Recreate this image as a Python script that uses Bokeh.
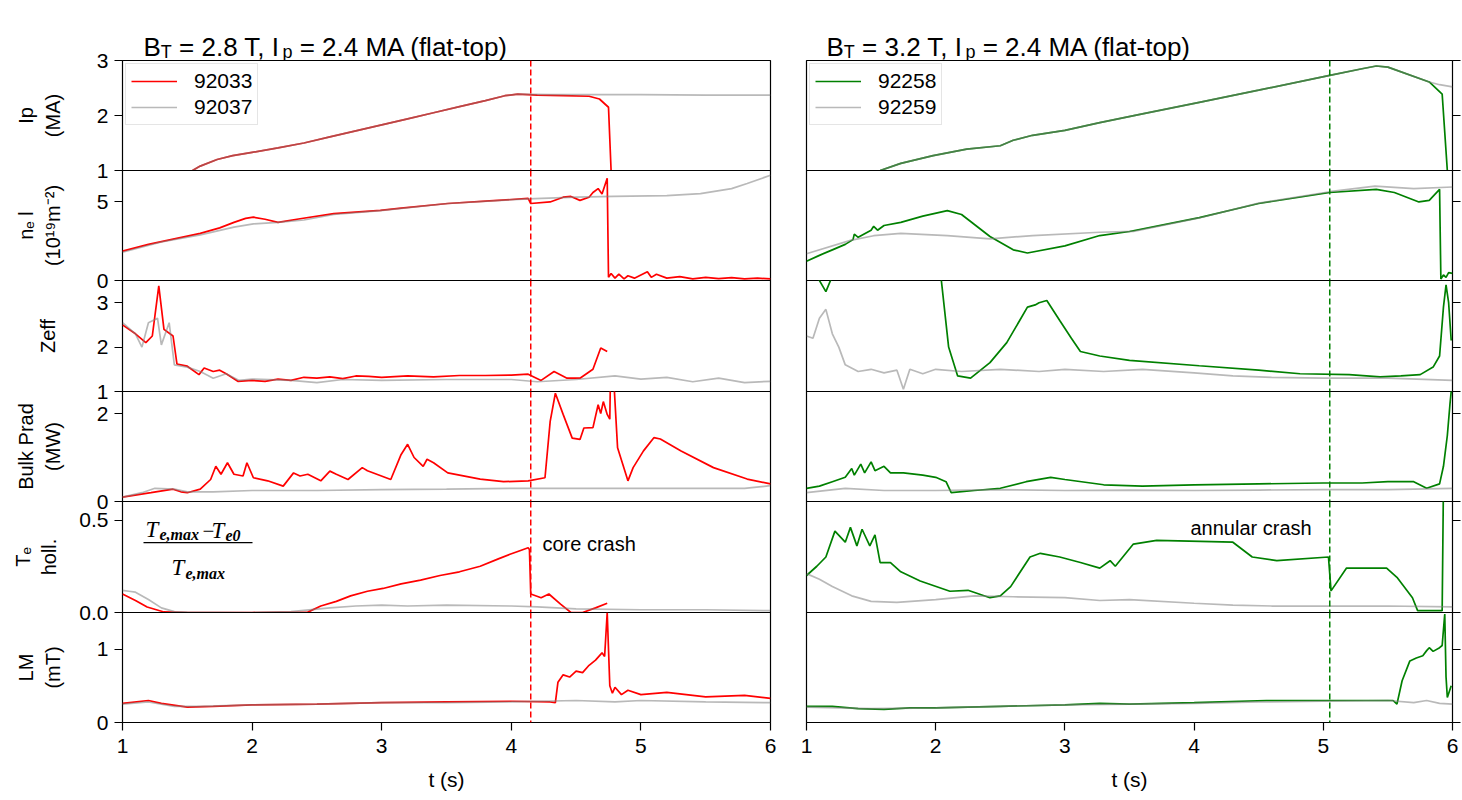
from bokeh.plotting import figure
from bokeh.layouts import column, row
from bokeh.models import Range1d, FixedTicker, Span, Label, BoxAnnotation, Legend, LegendItem
from bokeh.embed import file_html
from bokeh.resources import INLINE

# ---------------- data ----------------
shots_left = ["92033", "92037"]
shots_right = ["92258", "92259"]
crash_t_left = 4.15
crash_t_right = 5.05

# Ip (MA)
t_ip_92033 = [1.54, 1.6, 1.73, 1.85, 2.0, 2.2, 2.4, 2.6, 2.8, 3.0, 3.2, 3.4, 3.6, 3.8, 3.95, 4.05, 4.2, 4.4, 4.6, 4.68, 4.75, 4.77]
ip_92033 = [1.0, 1.08, 1.2, 1.27, 1.33, 1.41, 1.5, 1.61, 1.72, 1.83, 1.94, 2.05, 2.16, 2.27, 2.36, 2.39, 2.37, 2.36, 2.35, 2.3, 2.15, 1.0]
t_ip_92037 = [1.54, 1.6, 1.73, 1.85, 2.0, 2.2, 2.4, 2.6, 2.8, 3.0, 3.2, 3.4, 3.6, 3.8, 3.95, 4.05, 4.3, 4.6, 5.0, 5.5, 6.0]
ip_92037 = [1.0, 1.08, 1.2, 1.27, 1.33, 1.41, 1.5, 1.61, 1.72, 1.83, 1.94, 2.05, 2.16, 2.27, 2.36, 2.39, 2.38, 2.38, 2.38, 2.37, 2.37]
t_ip_92258 = [1.57, 1.73, 1.98, 2.24, 2.5, 2.6, 2.75, 3.0, 3.27, 3.6, 4.04, 4.5, 5.05, 5.3, 5.41, 5.5, 5.82, 5.92, 5.96]
ip_92258 = [1.0, 1.13, 1.27, 1.39, 1.45, 1.55, 1.64, 1.73, 1.87, 2.03, 2.24, 2.46, 2.73, 2.85, 2.9, 2.88, 2.61, 2.39, 1.0]
t_ip_92259 = [1.57, 1.73, 1.98, 2.24, 2.5, 2.6, 2.75, 3.0, 3.27, 3.6, 4.04, 4.5, 5.05, 5.3, 5.41, 5.5, 5.82, 5.9, 6.0]
ip_92259 = [1.0, 1.13, 1.27, 1.39, 1.45, 1.55, 1.64, 1.73, 1.87, 2.03, 2.24, 2.46, 2.73, 2.85, 2.9, 2.88, 2.61, 2.56, 2.52]

# line-integrated density (1e19 m^-2)
t_ne_92033 = [1.0, 1.2, 1.4, 1.6, 1.75, 1.86, 1.95, 2.01, 2.1, 2.2, 2.37, 2.63, 2.99, 3.15, 3.51, 3.8, 4.13, 4.15, 4.3, 4.4, 4.46, 4.53, 4.6, 4.63, 4.67, 4.7, 4.74, 4.75, 4.77, 4.8, 4.83, 4.87, 4.9, 4.95, 5.0, 5.05, 5.08, 5.12, 5.2, 5.3, 5.4, 5.5, 5.6, 5.7, 5.8, 5.9, 6.0]
ne_92033 = [1.87, 2.3, 2.65, 3.0, 3.35, 3.7, 3.95, 4.03, 3.9, 3.7, 3.93, 4.25, 4.46, 4.6, 4.9, 5.05, 5.22, 4.9, 5.0, 5.3, 5.35, 5.1, 5.3, 5.6, 5.85, 5.5, 6.5, 0.2, 0.45, 0.15, 0.4, 0.1, 0.3, 0.15, 0.35, 0.55, 0.2, 0.4, 0.15, 0.25, 0.1, 0.2, 0.12, 0.18, 0.1, 0.15, 0.1]
t_ne_92037 = [1.0, 1.3, 1.6, 1.86, 2.01, 2.2, 2.4, 2.63, 2.99, 3.51, 4.13, 4.5, 4.79, 5.2, 5.46, 5.7, 5.82, 6.0]
ne_92037 = [1.8, 2.45, 2.9, 3.4, 3.6, 3.7, 3.85, 4.2, 4.45, 4.9, 5.2, 5.3, 5.35, 5.4, 5.53, 5.85, 6.17, 6.7]
t_ne_92258 = [1.0, 1.1, 1.2, 1.3, 1.36, 1.37, 1.4, 1.5, 1.52, 1.55, 1.6, 1.73, 1.9, 2.09, 2.2, 2.42, 2.6, 2.71, 3.0, 3.27, 3.5, 4.04, 4.5, 5.05, 5.41, 5.55, 5.74, 5.82, 5.9, 5.91, 5.93, 5.95, 5.97, 6.0]
ne_92258 = [1.23, 1.6, 1.95, 2.3, 2.6, 2.95, 2.75, 3.2, 3.45, 3.2, 3.5, 3.7, 4.1, 4.45, 4.2, 2.8, 1.95, 1.75, 2.2, 2.86, 3.12, 4.0, 4.9, 5.6, 5.8, 5.6, 5.0, 5.1, 5.8, 0.1, 0.35, 0.2, 0.5, 0.45]
t_ne_92259 = [1.0, 1.34, 1.52, 1.73, 2.09, 2.42, 2.75, 3.27, 3.53, 4.04, 4.5, 5.05, 5.4, 5.7, 6.0]
ne_92259 = [1.7, 2.55, 2.85, 3.0, 2.85, 2.65, 2.86, 3.07, 3.12, 3.98, 4.92, 5.65, 6.0, 5.85, 5.95]

# Zeff
t_zeff_92033 = [1.0, 1.1, 1.18, 1.23, 1.28, 1.32, 1.39, 1.42, 1.5, 1.59, 1.63, 1.7, 1.75, 1.8, 1.89, 2.0, 2.1, 2.2, 2.3, 2.4, 2.5, 2.6, 2.7, 2.8, 2.9, 3.0, 3.2, 3.4, 3.6, 3.8, 4.0, 4.13, 4.23, 4.33, 4.43, 4.53, 4.63, 4.69, 4.74]
zeff_92033 = [2.5, 2.3, 2.1, 2.25, 3.38, 2.4, 2.25, 1.62, 1.57, 1.38, 1.53, 1.45, 1.48, 1.4, 1.23, 1.25, 1.23, 1.28, 1.25, 1.32, 1.3, 1.33, 1.29, 1.35, 1.34, 1.32, 1.35, 1.33, 1.36, 1.36, 1.37, 1.39, 1.25, 1.45, 1.3, 1.3, 1.5, 1.98, 1.9]
t_zeff_92037 = [1.0, 1.1, 1.15, 1.2, 1.27, 1.3, 1.36, 1.4, 1.5, 1.6, 1.7, 1.8, 1.9, 2.0, 2.3, 2.5, 2.7, 3.0, 3.5, 4.0, 4.2, 4.5, 4.8, 5.0, 5.2, 5.4, 5.6, 5.8, 6.0]
zeff_92037 = [2.55, 2.3, 2.0, 2.55, 2.65, 2.05, 2.55, 1.6, 1.55, 1.45, 1.3, 1.4, 1.25, 1.28, 1.25, 1.2, 1.27, 1.25, 1.27, 1.27, 1.22, 1.27, 1.35, 1.28, 1.32, 1.22, 1.3, 1.2, 1.23]
t_zeff_92258 = [1.0, 1.09, 1.15, 1.2, 1.3, 2.0, 2.04, 2.1, 2.17, 2.27, 2.42, 2.55, 2.65, 2.71, 2.77, 2.8, 2.86, 2.96, 3.05, 3.12, 3.27, 3.5, 4.04, 4.5, 4.82, 5.2, 5.44, 5.6, 5.75, 5.85, 5.9, 5.93, 5.95, 5.97, 5.99]
zeff_92258 = [3.9, 3.55, 3.25, 3.6, 4.2, 4.5, 3.6, 2.0, 1.35, 1.3, 1.65, 2.1, 2.6, 2.9, 2.95, 3.0, 3.05, 2.6, 2.2, 1.9, 1.8, 1.7, 1.58, 1.48, 1.4, 1.38, 1.33, 1.35, 1.38, 1.55, 1.8, 2.9, 3.4, 3.0, 2.15]
t_zeff_92259 = [1.0, 1.05, 1.1, 1.15, 1.2, 1.25, 1.3, 1.4, 1.5, 1.6, 1.7, 1.75, 1.8, 1.9, 2.0, 2.2, 2.5, 2.8, 3.0, 3.3, 3.6, 4.0, 4.3, 4.6, 5.0, 5.5, 6.0]
zeff_92259 = [2.25, 2.2, 2.65, 2.85, 2.3, 2.0, 1.6, 1.45, 1.5, 1.42, 1.48, 1.05, 1.5, 1.4, 1.5, 1.45, 1.5, 1.45, 1.5, 1.45, 1.5, 1.42, 1.35, 1.32, 1.3, 1.3, 1.25]

# bulk radiated power (MW)
t_prad_92033 = [1.0, 1.22, 1.39, 1.45, 1.5, 1.6, 1.68, 1.72, 1.76, 1.81, 1.86, 1.93, 1.96, 2.01, 2.12, 2.24, 2.32, 2.37, 2.43, 2.53, 2.6, 2.65, 2.74, 2.85, 2.89, 3.07, 3.15, 3.2, 3.25, 3.32, 3.35, 3.4, 3.51, 3.76, 3.94, 4.13, 4.26, 4.3, 4.34, 4.4, 4.47, 4.53, 4.56, 4.63, 4.67, 4.69, 4.71, 4.74, 4.76, 4.765, 4.79, 4.82, 4.9, 4.94, 5.02, 5.1, 5.15, 5.31, 5.56, 5.82, 6.0]
prad_92033 = [0.1, 0.2, 0.28, 0.22, 0.2, 0.28, 0.5, 0.8, 0.62, 0.88, 0.62, 0.58, 0.88, 0.54, 0.47, 0.35, 0.65, 0.58, 0.62, 0.47, 0.69, 0.62, 0.5, 0.77, 0.7, 0.5, 1.07, 1.3, 1.0, 0.8, 0.96, 0.88, 0.65, 0.51, 0.45, 0.47, 0.54, 1.82, 2.46, 1.98, 1.44, 1.41, 1.67, 1.68, 2.2, 2.0, 2.27, 1.98, 1.87, 2.8, 2.8, 1.22, 0.47, 0.77, 1.15, 1.45, 1.42, 1.15, 0.77, 0.51, 0.4]
t_prad_92037 = [1.0, 1.15, 1.25, 1.4, 1.5, 1.7, 2.0, 2.5, 3.0, 3.5, 4.0, 4.5, 5.0, 5.5, 5.8, 6.0]
prad_92037 = [0.1, 0.2, 0.3, 0.28, 0.22, 0.22, 0.25, 0.25, 0.27, 0.28, 0.3, 0.3, 0.3, 0.3, 0.3, 0.36]
t_prad_92258 = [1.0, 1.1, 1.2, 1.3, 1.35, 1.37, 1.42, 1.45, 1.5, 1.53, 1.6, 1.65, 1.75, 1.9, 2.0, 2.08, 2.12, 2.3, 2.5, 2.7, 2.89, 3.0, 3.3, 3.6, 4.0, 4.5, 5.0, 5.3, 5.5, 5.7, 5.8, 5.9, 5.93, 5.96, 5.98, 6.0]
prad_92258 = [0.3, 0.35, 0.45, 0.55, 0.75, 0.6, 0.85, 0.65, 0.9, 0.7, 0.8, 0.65, 0.65, 0.6, 0.55, 0.45, 0.2, 0.25, 0.3, 0.45, 0.55, 0.5, 0.38, 0.35, 0.38, 0.4, 0.42, 0.42, 0.45, 0.45, 0.3, 0.4, 0.8, 1.5, 2.2, 2.8]
t_prad_92259 = [1.0, 1.3, 1.6, 2.0, 2.5, 3.0, 3.5, 4.0, 4.5, 5.0, 5.5, 6.0]
prad_92259 = [0.2, 0.3, 0.25, 0.25, 0.27, 0.25, 0.26, 0.25, 0.26, 0.27, 0.27, 0.3]

# Te hollowness
t_te_92033 = [1.0, 1.1, 1.19, 1.32, 1.5, 2.0, 2.43, 2.53, 2.65, 2.76, 2.89, 3.01, 3.15, 3.3, 3.45, 3.6, 3.76, 3.9, 3.99, 4.05, 4.13, 4.14, 4.15, 4.23, 4.29, 4.38, 4.46, 4.55, 4.65, 4.74]
te_92033 = [0.1, 0.065, 0.03, 0.003, 0.0, 0.0, 0.002, 0.035, 0.06, 0.09, 0.115, 0.13, 0.155, 0.175, 0.2, 0.22, 0.25, 0.29, 0.315, 0.33, 0.35, 0.34, 0.1, 0.08, 0.1, 0.045, 0.0, 0.0, 0.025, 0.05]
t_te_92037 = [1.0, 1.05, 1.1, 1.2, 1.3, 1.4, 1.5, 2.0, 2.3, 2.6, 2.8, 3.0, 3.2, 3.5, 4.0, 4.2, 4.5, 5.0, 5.5, 6.0]
te_92037 = [0.12, 0.115, 0.11, 0.07, 0.025, 0.005, 0.002, 0.0, 0.005, 0.025, 0.035, 0.04, 0.035, 0.04, 0.035, 0.03, 0.02, 0.015, 0.015, 0.01]
t_te_92258 = [1.0, 1.08, 1.15, 1.22, 1.3, 1.34, 1.39, 1.43, 1.49, 1.53, 1.57, 1.65, 1.73, 1.88, 2.11, 2.25, 2.42, 2.5, 2.58, 2.73, 2.81, 2.96, 3.12, 3.27, 3.35, 3.39, 3.53, 3.71, 4.3, 4.45, 4.64, 5.04, 5.06, 5.18, 5.49, 5.57, 5.69, 5.73, 5.92, 5.93]
te_92258 = [0.2, 0.25, 0.3, 0.44, 0.38, 0.46, 0.36, 0.45, 0.36, 0.42, 0.27, 0.27, 0.22, 0.17, 0.115, 0.12, 0.08, 0.09, 0.14, 0.3, 0.32, 0.3, 0.27, 0.24, 0.28, 0.25, 0.37, 0.39, 0.38, 0.3, 0.28, 0.3, 0.117, 0.24, 0.24, 0.19, 0.08, 0.01, 0.01, 0.7]
t_te_92259 = [1.0, 1.1, 1.2, 1.35, 1.5, 1.7, 2.0, 2.3, 2.6, 3.0, 3.27, 3.5, 4.0, 4.3, 4.6, 5.0, 5.5, 6.0]
te_92259 = [0.21, 0.18, 0.14, 0.09, 0.06, 0.055, 0.07, 0.09, 0.085, 0.08, 0.065, 0.07, 0.05, 0.04, 0.035, 0.035, 0.035, 0.03]

# locked mode amplitude (mT)
t_lm_92033 = [1.0, 1.2, 1.3, 1.5, 1.7, 2.0, 2.5, 3.0, 3.5, 4.0, 4.3, 4.34, 4.36, 4.4, 4.45, 4.5, 4.55, 4.6, 4.65, 4.7, 4.72, 4.74, 4.76, 4.78, 4.8, 4.85, 4.9, 5.0, 5.2, 5.5, 5.8, 6.0]
lm_92033 = [0.26, 0.3, 0.26, 0.21, 0.22, 0.24, 0.25, 0.27, 0.28, 0.29, 0.28, 0.27, 0.55, 0.65, 0.62, 0.7, 0.68, 0.78, 0.85, 0.95, 0.9, 1.5, 0.5, 0.4, 0.48, 0.38, 0.44, 0.38, 0.41, 0.35, 0.37, 0.33]
t_lm_92037 = [1.0, 1.2, 1.4, 1.6, 2.0, 2.5, 3.0, 3.5, 4.0, 4.5, 4.8, 5.0, 5.5, 6.0]
lm_92037 = [0.25, 0.28, 0.22, 0.22, 0.24, 0.25, 0.27, 0.27, 0.28, 0.3, 0.28, 0.3, 0.28, 0.27]
t_lm_92258 = [1.0, 1.2, 1.4, 1.6, 1.8, 2.0, 2.5, 3.0, 3.27, 3.5, 4.0, 4.56, 5.0, 5.3, 5.54, 5.57, 5.61, 5.67, 5.72, 5.77, 5.8, 5.82, 5.85, 5.9, 5.92, 5.94, 5.95, 5.96, 5.99]
lm_92258 = [0.22, 0.22, 0.19, 0.18, 0.2, 0.2, 0.22, 0.24, 0.26, 0.25, 0.27, 0.3, 0.3, 0.3, 0.3, 0.25, 0.57, 0.84, 0.88, 0.91, 0.98, 1.02, 0.97, 1.02, 1.05, 1.48, 0.62, 0.34, 0.5]
t_lm_92259 = [1.0, 1.5, 2.0, 2.5, 3.0, 3.5, 4.0, 4.5, 5.0, 5.5, 5.7, 5.8, 5.9, 6.0]
lm_92259 = [0.21, 0.19, 0.2, 0.22, 0.24, 0.25, 0.26, 0.28, 0.29, 0.3, 0.27, 0.3, 0.26, 0.25]

left_series = [
    ((t_ip_92033, ip_92033), (t_ip_92037, ip_92037)),
    ((t_ne_92033, ne_92033), (t_ne_92037, ne_92037)),
    ((t_zeff_92033, zeff_92033), (t_zeff_92037, zeff_92037)),
    ((t_prad_92033, prad_92033), (t_prad_92037, prad_92037)),
    ((t_te_92033, te_92033), (t_te_92037, te_92037)),
    ((t_lm_92033, lm_92033), (t_lm_92037, lm_92037)),
]
right_series = [
    ((t_ip_92258, ip_92258), (t_ip_92259, ip_92259)),
    ((t_ne_92258, ne_92258), (t_ne_92259, ne_92259)),
    ((t_zeff_92258, zeff_92258), (t_zeff_92259, zeff_92259)),
    ((t_prad_92258, prad_92258), (t_prad_92259, prad_92259)),
    ((t_te_92258, te_92258), (t_te_92259, te_92259)),
    ((t_lm_92258, lm_92258), (t_lm_92259, lm_92259)),
]

y_ranges = [(1, 3), (0, 7), (1, 3.5), (0, 2.5), (0, 0.6), (0, 1.5)]
y_ticks = [[1, 2, 3], [0, 5], [1, 2, 3], [0, 2], [0, 0.5], [0, 1]]
y_labels = ["Ip\n(MA)", "n\u2091 l\n(10\u00b9\u2079m\u207b\u00b2)", "Zeff", "Bulk Prad\n(MW)", "T\u2091\nholl.", "LM\n(mT)"]
x_ticks = [1, 2, 3, 4, 5, 6]
titles = ["2.8", "3.2"]

# ---------------- styling / layout ----------------
FONT = "Liberation Sans"
SERIF = "Liberation Serif"
RED, GREEN, GRAY = "#ff0000", "#008000", "#808080"
FH = [110, 110, 111, 110, 111, 110]
FW = [648, 646]
BL = [122, 18]      # left borders of the two columns
BR = [18, 9]        # right borders
X0 = [122, 806]     # page x of each column's frame
TOP = 60
OVER = 16
TITLE_H = 60
LABEL_STANDOFF = [30, 30, 35, 30, 16, 30]

AR = {'B': 667, 'T': 611, ' ': 278, '=': 584, '.': 278, ',': 278, 'I': 278, 'p': 556, 'M': 833,
      'A': 667, '(': 333, ')': 333, 'f': 278, 'l': 222, 'a': 556, 't': 278, '-': 333, 'o': 556}


def tw(s, size):
    return sum(AR.get(c, 556) for c in s) * size / 1000.0


def to_data(col, i, xp, yp):
    lo, hi = y_ranges[i]
    ytop = TOP + sum(FH[:i])
    return 1 + (xp - X0[col]) * 5.0 / FW[col], hi - (yp - ytop) * (hi - lo) / FH[i]


def label(x, y, text, size, font=FONT, style="normal"):
    return Label(x=x, y=y, text=text, text_font=font, text_font_size=f"{size}px",
                 text_font_style=style, text_color="black", text_align="left",
                 text_baseline="alphabetic")


def add_text(p, col, i, xp, yp, text, size, font=FONT, style="normal"):
    x, y = to_data(col, i, xp, yp)
    p.add_layout(label(x, y, text, size, font, style))


def title_fig(col):
    t = figure(frame_width=FW[col], frame_height=TITLE_H,
               x_range=Range1d(0, FW[col]), y_range=Range1d(TITLE_H, 0),
               output_backend="svg", toolbar_location=None,
               x_axis_location=None, y_axis_location=None,
               min_border_top=0, min_border_bottom=0,
               min_border_left=BL[col], min_border_right=BR[col],
               border_fill_color=None, background_fill_color=None,
               outline_line_color=None)
    t.xgrid.visible = False
    t.ygrid.visible = False
    parts = [("B", 26, 0), ("T", 18, 5), (f" = {titles[col]} T, I", 26, 0), ("p", 18, 5),
             (" = 2.4 MA (flat-top)", 26, 0)]
    xp = (143 if col == 0 else 826) - X0[col]
    for txt, sz, dy in parts:
        stripped = txt.lstrip(" ")
        xp += tw(txt[:len(txt) - len(stripped)], sz)
        t.add_layout(label(xp, 46 + dy, stripped, sz))
        xp += tw(stripped, sz)
    return t


def build(col):
    series = left_series if col == 0 else right_series
    color = RED if col == 0 else GREEN
    shots = shots_left if col == 0 else shots_right
    crash = crash_t_left if col == 0 else crash_t_right
    figs = [title_fig(col)]
    for i in range(6):
        top, bottom = i == 0, i == 5
        lo, hi = y_ranges[i]
        p = figure(frame_width=FW[col], frame_height=FH[i],
                   x_range=Range1d(1, 6), y_range=Range1d(lo, hi),
                   output_backend="svg", toolbar_location=None,
                   x_axis_location="below" if bottom else None,
                   y_axis_location="left" if col == 0 else "right",
                   min_border_top=OVER,
                   min_border_bottom=72 if bottom else OVER,
                   min_border_left=BL[col], min_border_right=BR[col],
                   border_fill_color=None, background_fill_color=None,
                   outline_line_color="black", outline_line_width=1.2)
        if top:
            p.margin = (TOP - TITLE_H - OVER, 0, 0, 0)
        else:
            p.margin = (-2 * OVER, 0, 0, 0)
        p.xgrid.visible = False
        p.ygrid.visible = False
        ya = p.yaxis[0]
        ya.ticker = FixedTicker(ticks=y_ticks[i])
        ya.major_tick_out = 8
        ya.major_tick_in = 0
        ya.minor_tick_out = 0
        ya.minor_tick_in = 0
        ya.major_tick_line_width = 1.2
        ya.major_tick_line_color = "black"
        ya.axis_line_color = None
        ya.major_label_text_font = FONT
        ya.major_label_text_font_size = "21px"
        ya.major_label_text_color = "black"
        if col == 0:
            ya.major_label_standoff = 6
            if i == 4:
                ya.major_label_overrides = {0: "0.0", 0.5: "0.5"}
            ya.axis_label = y_labels[i]
            ya.axis_label_text_font = FONT
            ya.axis_label_text_font_size = "20px"
            ya.axis_label_text_font_style = "normal"
            ya.axis_label_text_color = "black"
            ya.axis_label_standoff = LABEL_STANDOFF[i]
        else:
            ya.major_label_standoff = 0
            ya.major_label_overrides = {v: "" for v in y_ticks[i]}
        if bottom:
            xa = p.xaxis[0]
            xa.ticker = FixedTicker(ticks=x_ticks)
            xa.major_tick_out = 8
            xa.major_tick_in = 0
            xa.minor_tick_out = 0
            xa.minor_tick_in = 0
            xa.major_tick_line_width = 1.2
            xa.major_tick_line_color = "black"
            xa.axis_line_color = None
            xa.major_label_text_font = FONT
            xa.major_label_text_font_size = "21px"
            xa.major_label_text_color = "black"
            xa.major_label_standoff = 8
            xa.axis_label = "t (s)"
            xa.axis_label_text_font = FONT
            xa.axis_label_text_font_size = "21px"
            xa.axis_label_text_font_style = "normal"
            xa.axis_label_text_color = "black"
            xa.axis_label_standoff = 12
        (ta, va), (tb, vb) = series[i]
        r1 = p.line(ta, va, line_color=color, line_width=1.7)
        r2 = p.line(tb, vb, line_color=GRAY, line_alpha=0.55, line_width=1.7)
        p.add_layout(Span(location=crash, dimension="height", line_color=color,
                          line_width=1.5, line_dash="6 3"))
        if top:
            leg = Legend(items=[LegendItem(label=shots[0], renderers=[r1]),
                                LegendItem(label=shots[1], renderers=[r2])],
                         location="top_left", label_text_font=FONT, label_text_font_size="21px",
                         label_text_color="black",
                         glyph_width=46, glyph_height=20, label_height=20, label_standoff=17,
                         spacing=2, padding=5, margin=3, border_line_color="#cccccc",
                         border_line_width=1, background_fill_alpha=0.8)
            p.add_layout(leg)
        if i == 4:
            if col == 0:
                add_text(p, col, i, 542, 543, "core crash", 20)
                add_text(p, col, i, 145, 529, "T", 23, SERIF, "italic")
                add_text(p, col, i, 159, 534, "e,max", 16, SERIF, "bold italic")
                add_text(p, col, i, 202, 530, "\u2212", 21, SERIF, "normal")
                add_text(p, col, i, 211, 530, "T", 23, SERIF, "italic")
                add_text(p, col, i, 225, 535, "e0", 16, SERIF, "bold italic")
                add_text(p, col, i, 171, 567, "T", 23, SERIF, "italic")
                add_text(p, col, i, 185, 573, "e,max", 16, SERIF, "bold italic")
                xl, yb = to_data(col, i, 143, 542.8)
                xr, yt = to_data(col, i, 252, 541.4)
                p.add_layout(BoxAnnotation(left=xl, right=xr, bottom=yb, top=yt,
                                           fill_color="black", fill_alpha=1.0, line_color=None))
            else:
                add_text(p, col, i, 1190, 527, "annular crash", 20)
        figs.append(p)
    return column(*figs, spacing=0)


layout = row(build(0), build(1), spacing=0)
open("out.html", "w").write(file_html(layout, INLINE))
